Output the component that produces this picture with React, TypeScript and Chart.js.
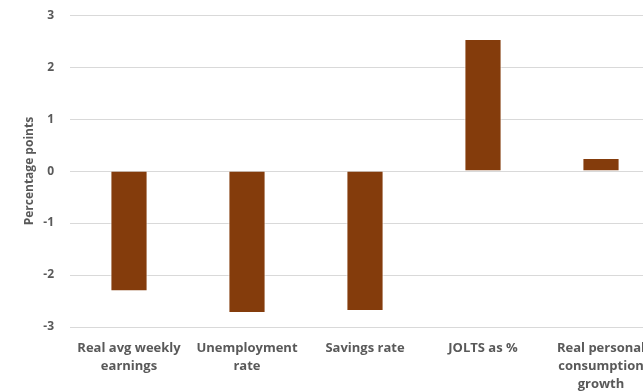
import React, { useEffect, useRef } from "react";
import { Chart, registerables } from "chart.js";

Chart.register(...registerables);

const categories: (string | string[])[] = [
  ["Real avg weekly", "earnings"],
  ["Unemployment", "rate"],
  "Savings rate",
  "JOLTS as %",
  ["Real personal", "consumption", "growth"],
];
const values: number[] = [-2.31, -2.73, -2.69, 2.54, 0.25];
const yMin = -3;
const yMax = 3;
const yStep = 1;
const yTitle = "Percentage points";

const FONT = "'Open Sans', Calibri, sans-serif";
const TEXT = "#595959";

export default function App() {
  const ref = useRef<HTMLCanvasElement | null>(null);
  useEffect(() => {
    if (!ref.current) return;
    const chart = new Chart(ref.current, {
      type: "bar",
      data: {
        labels: categories,
        datasets: [
          {
            data: values,
            backgroundColor: "#843C0C",
            borderColor: "rgba(255,255,255,0.9)",
            borderWidth: 1,
            categoryPercentage: 1,
            barPercentage: 0.315,
          },
        ],
      },
      options: {
        animation: false,
        responsive: true,
        maintainAspectRatio: false,
        layout: { padding: { top: 7, left: 0, right: 0, bottom: 0 } },
        plugins: { legend: { display: false }, tooltip: { enabled: false }, title: { display: false } },
        scales: {
          x: {
            offset: true,
            grid: { display: false, drawTicks: false },
            border: { display: false },
            ticks: {
              color: TEXT,
              font: { family: FONT, size: 13, weight: "bold", lineHeight: 1.4 },
              padding: 12,
              maxRotation: 0,
              autoSkip: false,
            },
            afterFit: (s: any) => {
              s.height = 93;
            },
          },
          y: {
            min: yMin,
            max: yMax,
            grid: { color: "#d9d9d9", lineWidth: 1, drawTicks: false },
            border: { display: false },
            ticks: {
              stepSize: yStep,
              color: TEXT,
              font: { family: FONT, size: 12, weight: "bold" },
              padding: 16,
            },
            title: {
              display: true,
              text: yTitle,
              color: TEXT,
              font: { family: FONT, size: 12, weight: "bold" },
              padding: { top: 22, bottom: 0 },
            },
            afterFit: (s: any) => {
              s.width = 70;
            },
          },
        },
      },
    });
    return () => chart.destroy();
  }, []);
  return (
    <div style={{ position: "fixed", left: 0, top: 0, width: 643, height: 391, overflow: "hidden", background: "#fff" }}>
      <div style={{ position: "absolute", left: 0, top: -8, width: 660, height: 428 }}>
        <canvas ref={ref} />
      </div>
    </div>
  );
}
